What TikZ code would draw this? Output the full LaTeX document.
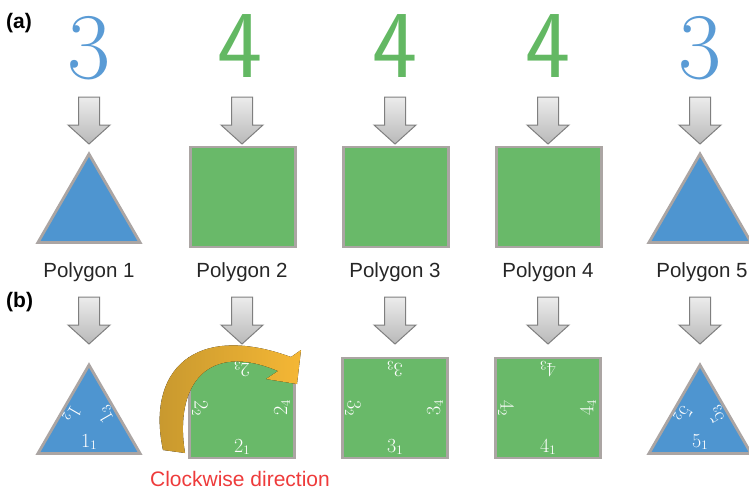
\documentclass[tikz,border=0pt]{standalone}
\usepackage{fontspec}
\usepackage{tikz}
\usetikzlibrary{shapes.geometric, calc}
\newfontfamily\labelfont{Liberation Sans}
\definecolor{polyblue}{HTML}{4E95D0}
\definecolor{polygreen}{HTML}{69B969}
\definecolor{digitblue}{HTML}{5A9BD5}
\definecolor{digitgreen}{HTML}{63B863}
\definecolor{edgegray}{HTML}{ABA5A3}
\definecolor{arrowgray}{HTML}{7F7F7F}
\definecolor{turndark}{HTML}{C4962E}
\definecolor{turnlight}{HTML}{F5B735}
\definecolor{notered}{HTML}{EE3B3B}

\newcommand{\sidelab}[2]{#1\raisebox{-0.3ex}{\fontsize{13}{13}\selectfont #2}}

\tikzset{
  pics/downarrow/.style={code={
    \draw[arrowgray, line width=1pt, top color=gray!15, bottom color=gray!55]
      (-10.5,0) -- (10.5,0) -- (10.5,28) -- (21,28) -- (0,47) -- (-21,28) -- (-10.5,28) -- cycle;}}
}

\begin{document}
\begin{tikzpicture}[
    x=1pt, y=-1pt,
    tri/.style={regular polygon, regular polygon sides=3, minimum size=118pt,
                inner sep=0pt, outer sep=0pt, draw=edgegray, line width=2.8pt,
                fill=polyblue},
    sq/.style={rectangle, minimum width=105pt, minimum height=100pt,
               inner sep=0pt, outer sep=0pt, draw=edgegray, line width=2.8pt,
               fill=polygreen},
    numthree/.style={text=digitblue, inner sep=0pt, font=\fontsize{94}{94}\selectfont},
    numfour/.style={text=digitgreen, inner sep=0pt, font=\sffamily\fontsize{96}{96}\selectfont},
    polylbl/.style={font=\labelfont\fontsize{20.5}{20.5}\selectfont, text=black!85, anchor=base},
    partlbl/.style={font=\labelfont\bfseries\fontsize{21}{21}\selectfont, anchor=west, inner sep=0pt},
    sidelbl/.style={text=white, inner sep=0pt, font=\fontsize{20}{20}\selectfont}
]

\useasboundingbox (0,0) rectangle (749,493);

% (a) vertex counts and polygons
\node[partlbl] (parta) at (6,23) {(a)};
\node[numthree] (dig1) at (89,48) {3};
\node[numfour] (dig2) at (240,46) {4};
\node[numfour] (dig3) at (395,46) {4};
\node[numfour] (dig4) at (548,46) {4};
\node[numthree] (dig5) at (700,48) {3};

\foreach \x in {89,242,395,548,700}
  \pic at (\x,97) {downarrow};

\node[tri] (tria1) at (89,213) {};
\node[sq] (sqa2) at (243,197) {};
\node[sq] (sqa3) at (396,197) {};
\node[sq] (sqa4) at (549,197) {};
\node[tri] (tria5) at (700,213) {};

\node[polylbl] (name1) at (89,277) {Polygon 1};
\node[polylbl] (name2) at (242,277) {Polygon 2};
\node[polylbl] (name3) at (395,277) {Polygon 3};
\node[polylbl] (name4) at (548,277) {Polygon 4};
\node[polylbl] (name5) at (702,277) {Polygon 5};

% (b) numbered edges
\node[partlbl] (partb) at (6,302) {(b)};

\foreach \x in {89,242,395,548,700}
  \pic at (\x,297) {downarrow};

\node[tri] (trib1) at (89,424) {};
\node[sq] (sqb2) at (242,408) {};
\node[sq] (sqb3) at (395,408) {};
\node[sq] (sqb4) at (548,408) {};
\node[tri] (trib5) at (700,424) {};

\foreach \n in {1,5} {
  \node[sidelbl] (e\n1) at ($(trib\n.center)!0.6!(trib\n.side 2)$) {\sidelab{\n}{1}};
  \node[sidelbl, rotate=-120] (e\n2) at ($(trib\n.center)!0.66!(trib\n.side 1)$) {\sidelab{\n}{2}};
  \node[sidelbl, rotate=120] (e\n3) at ($(trib\n.center)!0.66!(trib\n.side 3)$) {\sidelab{\n}{3}};
}

\foreach \n in {2,3,4} {
  \node[sidelbl] (e\n1) at ($(sqb\n.center)!0.78!(sqb\n.south)$) {\sidelab{\n}{1}};
  \node[sidelbl, rotate=-90] (e\n2) at ($(sqb\n.center)!0.8!(sqb\n.west)$) {\sidelab{\n}{2}};
  \node[sidelbl, rotate=180] (e\n3) at ($(sqb\n.center)!0.78!(sqb\n.north)$) {\sidelab{\n}{3}};
  \node[sidelbl, rotate=90] (e\n4) at ($(sqb\n.center)!0.76!(sqb\n.east)$) {\sidelab{\n}{4}};
}

% clockwise turn arrow
\fill[left color=turndark, right color=turnlight]
  (163,450) .. controls (146,370) and (195,322) .. (291,357)
  -- (301,350) -- (297,384) -- (266,379) -- (278,371)
  .. controls (207,341) and (174,385) .. (185,453) -- cycle;

\node[font=\labelfont\fontsize{21}{21}\selectfont, text=notered] (cwnote) at (240,479) {Clockwise direction};

\end{tikzpicture}
\end{document}
